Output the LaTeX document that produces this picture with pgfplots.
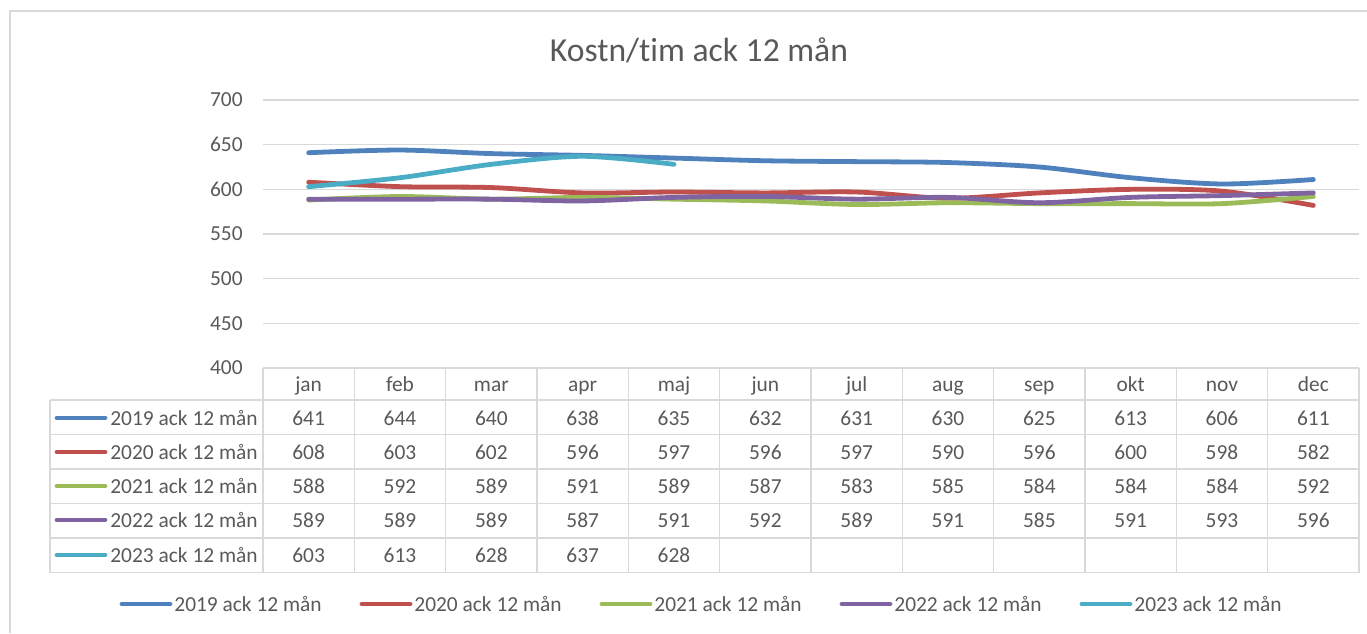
\documentclass[border=0pt]{standalone}
\usepackage{pgfplots}
\usepackage{pgfplotstable}
\pgfplotsset{compat=1.18}
\usepackage{fontspec}
\setmainfont{Carlito}[Ligatures=NoCommon]
\definecolor{cA}{HTML}{4F81BD}
\definecolor{cB}{HTML}{C0504D}
\definecolor{cC}{HTML}{9BBB59}
\definecolor{cD}{HTML}{8064A2}
\definecolor{cE}{HTML}{4BACC6}
\definecolor{txt}{HTML}{595959}
\definecolor{gridc}{HTML}{D9D9D9}
\pgfplotstableread{
x a b c d e
0 641 608 588 589 603
1 644 603 592 589 613
2 640 602 589 589 628
3 638 596 591 587 637
4 635 597 589 591 628
5 632 596 587 592 nan
6 631 597 583 589 nan
7 630 590 585 591 nan
8 625 596 584 585 nan
9 613 600 584 591 nan
10 606 598 584 593 nan
11 611 582 592 596 nan
}\data
\begin{document}
\begin{tikzpicture}
\useasboundingbox (0,0) rectangle (683.5pt,-316.5pt);
\begin{axis}[
  at={(131.5pt,-184pt)}, anchor=south west,
  scale only axis, width=548pt, height=134pt,
  xmin=-0.5, xmax=11.5, ymin=400, ymax=700,
  ytick={400,450,...,700}, xtick=\empty,
  axis line style={draw=none},
  ymajorgrids, grid style={gridc, line width=0.75pt},
  major tick length=0pt,
  yticklabel style={font=\fontsize{10.7pt}{12pt}\selectfont, text=txt, anchor=east, inner sep=0pt, xshift=-10pt},
  /pgf/number format/assume math mode=true,
  every axis plot/.append style={line width=2.4pt, smooth, tension=0.5, line cap=round, line join=round},
]
\addplot[cA] table[x=x,y=a]{\data};
\addplot[cB] table[x=x,y=b]{\data};
\addplot[cC] table[x=x,y=c]{\data};
\addplot[cD] table[x=x,y=d]{\data};
\addplot[cE] table[x=x,y=e]{\data};
\end{axis}
\begin{scope}[x=0.5pt,y=-0.5pt, every node/.style={font=\fontsize{10.7pt}{12pt}\selectfont, text=txt, inner sep=0pt, anchor=base}]
% chart border
\draw[gridc, line width=0.75pt] (10,633) -- (10,11) -- (1367,11);
% title
\node[font=\fontsize{16.8pt}{18pt}\selectfont] at (699,61) {Kostn/tim ack 12 mån};
% table grid
\draw[gridc, line width=0.75pt] (263,368) -- (1359,368);
\foreach \yy in {400,434.5,469,503.5,538,572.5} \draw[gridc, line width=0.75pt] (50,\yy) -- (1359,\yy);
\draw[gridc, line width=0.75pt] (50,400) -- (50,572.5);
\foreach \k in {0,...,12} \draw[gridc, line width=0.75pt] ({263+\k*91.3333},368) -- ({263+\k*91.3333},572.5);
% header
\foreach \m [count=\i from 0] in {jan,feb,mar,apr,maj,jun,jul,aug,sep,okt,nov,dec}
  \node at ({263+(\i+0.5)*91.3333},391) {\m};
% rows
\foreach \v [count=\i from 0] in {641,644,640,638,635,632,631,630,625,613,606,611}
  \node at ({263+(\i+0.5)*91.3333},425) {\v};
\foreach \v [count=\i from 0] in {608,603,602,596,597,596,597,590,596,600,598,582}
  \node at ({263+(\i+0.5)*91.3333},459) {\v};
\foreach \v [count=\i from 0] in {588,592,589,591,589,587,583,585,584,584,584,592}
  \node at ({263+(\i+0.5)*91.3333},493) {\v};
\foreach \v [count=\i from 0] in {589,589,589,587,591,592,589,591,585,591,593,596}
  \node at ({263+(\i+0.5)*91.3333},527) {\v};
\foreach \v [count=\i from 0] in {603,613,628,637,628}
  \node at ({263+(\i+0.5)*91.3333},562) {\v};
% row labels
\foreach \c/\yr/\yy in {cA/2019/418,cB/2020/452,cC/2021/486,cD/2022/520,cE/2023/555}{
  \draw[\c, line width=2.4pt, line cap=round] (57,\yy) -- (105,\yy);
  \node[anchor=base west] at (110,\yy+7) {\yr\ ack 12 mån};
}
% bottom legend
\foreach \c/\yr [count=\i from 0] in {cA/2019,cB/2020,cC/2021,cD/2022,cE/2023}{
  \draw[\c, line width=2.4pt, line cap=round] ({122+\i*240},604) -- ({170+\i*240},604);
  \node[anchor=base west] at ({174+\i*240},611) {\yr\ ack 12 mån};
}
\end{scope}
\end{tikzpicture}
\end{document}
